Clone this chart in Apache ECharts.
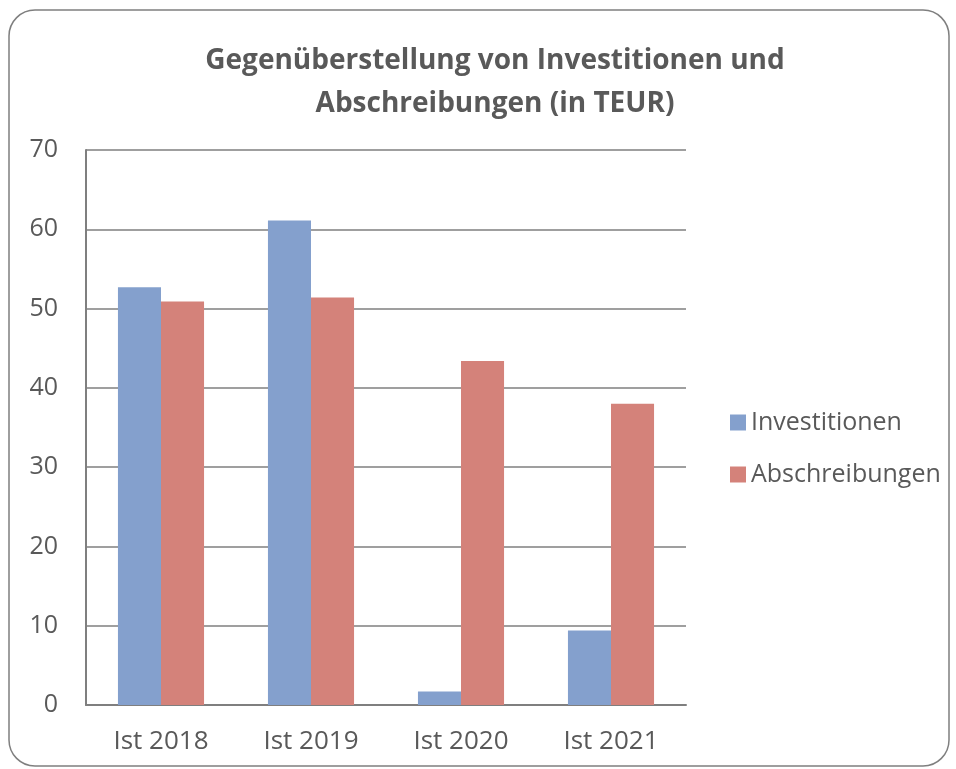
<!DOCTYPE html>
<html>
<head>
<meta charset="utf-8">
<script src="https://cdn.jsdelivr.net/npm/echarts@6/dist/echarts.min.js"></script>
<style>
html, body { margin: 0; padding: 0; background: #fff; }
#container { width: 956px; height: 769px; }
</style>
</head>
<body>
<div id="container"></div>
<script>
var dom = document.getElementById("container");
var myChart = echarts.init(dom);

// Daten
var kategorien = ['Ist 2018', 'Ist 2019', 'Ist 2020', 'Ist 2021'];
var investitionen = [52.7, 61.1, 1.7, 9.4];
var abschreibungen = [50.9, 51.4, 43.4, 38.0];
var serienNamen = ['Investitionen', 'Abschreibungen'];

var textFarbe = '#595959';
var linienFarbe = '#7f7f7f';
var schrift = 'Open Sans';

var option = {
    backgroundColor: '#fff',
    animation: false,
    graphic: [{
        type: 'rect',
        shape: { x: 9, y: 10, width: 940, height: 756, r: 26 },
        style: { fill: 'none', stroke: linienFarbe, lineWidth: 1.5 },
        z: -1
    }],
    title: {
        text: 'Gegenüberstellung von Investitionen und\nAbschreibungen (in TEUR)',
        left: 490,
        textAlign: 'center',
        top: 35,
        textStyle: {
            color: textFarbe,
            fontFamily: schrift,
            fontWeight: 'bold',
            fontSize: 28,
            lineHeight: 43
        }
    },
    legend: {
        orient: 'vertical',
        left: 725,
        top: 405,
        itemWidth: 16,
        itemHeight: 16,
        itemGap: 27,
        icon: 'rect',
        data: serienNamen,
        textStyle: { color: textFarbe, fontFamily: schrift, fontSize: 25 }
    },
    grid: { left: 86, right: 270, top: 150, bottom: 64 },
    xAxis: {
        type: 'category',
        data: kategorien,
        axisTick: { show: false },
        axisLine: { lineStyle: { color: linienFarbe, width: 2 } },
        axisLabel: { color: textFarbe, fontFamily: schrift, fontSize: 26, margin: 24 }
    },
    yAxis: {
        type: 'value',
        min: 0,
        max: 70,
        interval: 10,
        axisLine: { show: true, lineStyle: { color: linienFarbe, width: 2 } },
        axisTick: { show: false },
        splitLine: { lineStyle: { color: linienFarbe, width: 1.5 } },
        axisLabel: { color: textFarbe, fontFamily: schrift, fontSize: 25, margin: 28 }
    },
    series: [
        {
            name: serienNamen[0],
            type: 'bar',
            data: investitionen,
            barWidth: '28.7%',
            barGap: '0%',
            itemStyle: { color: '#84a0cd' }
        },
        {
            name: serienNamen[1],
            type: 'bar',
            data: abschreibungen,
            barWidth: '28.7%',
            itemStyle: { color: '#d4827a' }
        }
    ]
};
if (option && typeof option === "object") {
    myChart.setOption(option, true);
}
</script>
</body>
</html>
